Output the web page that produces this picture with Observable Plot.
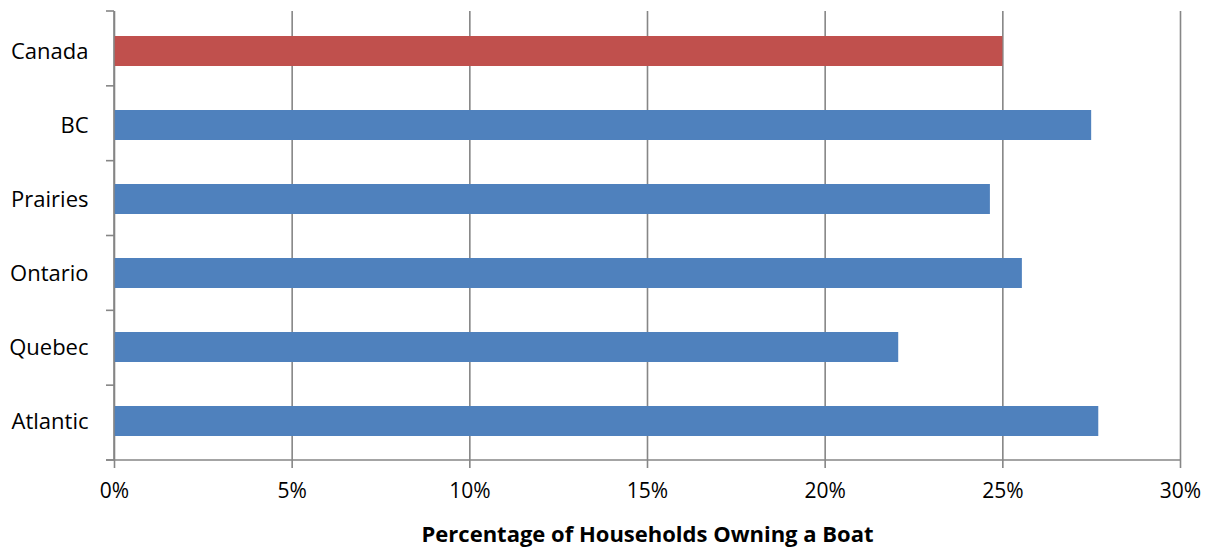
<!DOCTYPE html>
<html>
<head>
<meta charset="utf-8">
<script src="https://cdn.jsdelivr.net/npm/d3@7"></script>
<script src="https://cdn.jsdelivr.net/npm/@observablehq/plot@0.6"></script>
<style>
  html, body { margin: 0; padding: 0; background: #fff; }
</style>
</head>
<body>
<div id="chart"></div>
<script>
const categories = ["Canada", "BC", "Prairies", "Ontario", "Quebec", "Atlantic"];
const values = [25.0, 27.5, 24.65, 25.55, 22.07, 27.7];
const highlight = "Canada";
const xTicks = [0, 5, 10, 15, 20, 25, 30];
const xTitle = "Percentage of Households Owning a Boat";

const rows = categories.map((c, i) => ({region: c, value: values[i]}));
const gray = "#868686";
const font = "'Open Sans', sans-serif";

const axisLines = (index, scales, values, dims) => {
  const g = d3.create("svg:g").attr("stroke", gray).attr("stroke-width", 1.6).attr("fill", "none");
  const x0 = scales.x(0);
  const x1 = scales.x(30);
  const top = dims.marginTop, bottom = dims.height - dims.marginBottom;
  const n = categories.length;
  const step = (bottom - top) / n;
  for (let i = 0; i <= n; i++) {
    const yy = top + i * step;
    g.append("line").attr("x1", x0 - 8).attr("x2", x0).attr("y1", yy).attr("y2", yy);
  }
  g.append("line").attr("x1", x0).attr("x2", x0).attr("y1", top).attr("y2", bottom);
  g.append("line").attr("x1", x0 - 8).attr("x2", x1).attr("y1", bottom).attr("y2", bottom);
  return g.node();
};

const chart = Plot.plot({
  width: 1211,
  height: 549,
  marginLeft: 114,
  marginRight: 31,
  marginTop: 11,
  marginBottom: 89,
  style: {fontFamily: font, fontSize: "22px", color: "#000", background: "#fff"},
  x: {domain: [0, 30], ticks: xTicks, tickFormat: d => d + "%"},
  y: {domain: categories, paddingInner: 0.6, paddingOuter: 0.3},
  marks: [
    Plot.gridX(xTicks, {stroke: gray, strokeOpacity: 1, strokeWidth: 1.6}),
    Plot.barX(rows, {
      x: "value",
      y: "region",
      fill: d => d.region === highlight ? "#C0504D" : "#4F81BD"
    }),
    Plot.axisX({
      ticks: xTicks,
      tickFormat: d => d + "%",
      tickSize: 8,
      tickPadding: 15,
      stroke: gray,
      strokeWidth: 1.6,
      fontSize: 21,
      fill: "#000",
      label: null
    }),
    Plot.text([xTitle], {
      frameAnchor: "bottom",
      dy: 81,
      fontWeight: "bold",
      fontSize: 22,
      fill: "#000"
    }),
    Plot.axisY({tickSize: 0, tickPadding: 26, fontSize: 22, fill: "#000", label: null}),
    axisLines
  ]
});
document.getElementById("chart").appendChild(chart);
</script>
</body>
</html>
